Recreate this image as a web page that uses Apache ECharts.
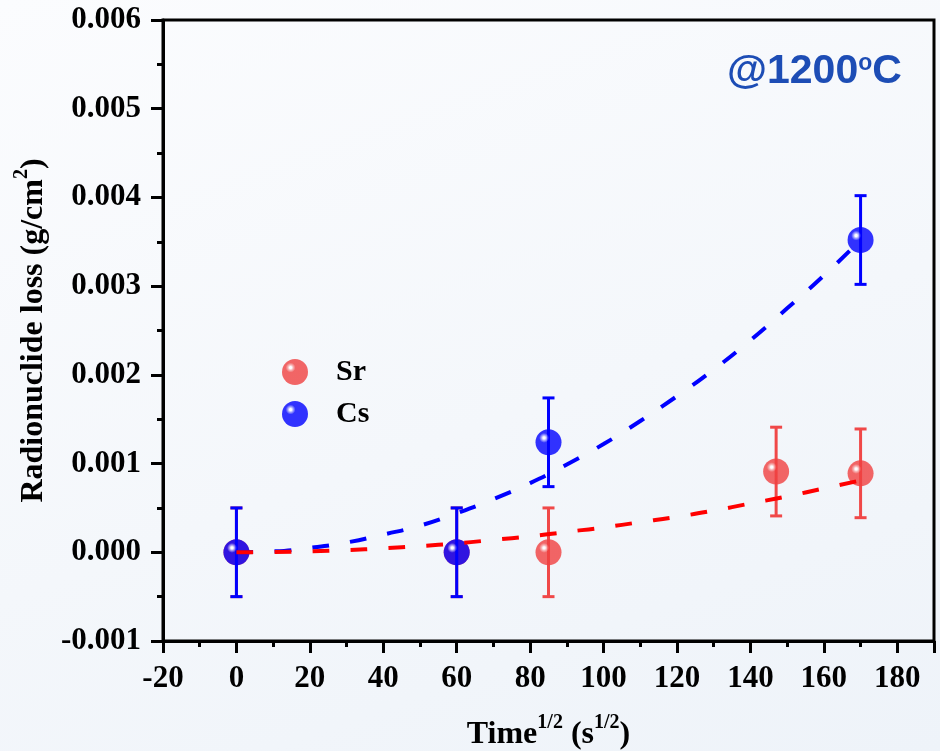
<!DOCTYPE html>
<html>
<head>
<meta charset="utf-8">
<script src="https://cdn.jsdelivr.net/npm/echarts@6/dist/echarts.min.js"></script>
<style>
  html, body { margin: 0; padding: 0; }
  body { width: 940px; height: 751px; background: linear-gradient(160deg, #fbfcfe 0%, #f4f7fb 55%, #eef3f9 100%); }
  #chart { width: 940px; height: 751px; }
</style>
</head>
<body>
<div id="chart"></div>
<script>
// Measured radionuclide loss at 1200 °C versus square root of time
const srTime = [0, 60, 85, 147, 170];
const srLoss = [0, 0, 0, 0.00091, 0.00089];
const srErr = [0.0005, 0.0005, 0.0005, 0.0005, 0.0005];

const csTime = [0, 60, 85, 170];
const csLoss = [0, 0, 0.00124, 0.00352];
const csErr = [0.0005, 0.0005, 0.0005, 0.0005];

// Dashed trend curves
const fitTime = [0, 10, 20, 30, 40, 50, 60, 70, 80, 90, 100, 110, 120, 130, 140, 150, 160, 170];
const csFit = [0, 0.00001, 0.00005, 0.00011, 0.0002, 0.0003, 0.00044, 0.0006, 0.00078, 0.00099,
               0.00122, 0.00148, 0.00176, 0.00206, 0.00239, 0.00275, 0.00312, 0.00352];
const srFit = [0, 0.000003, 0.00001, 0.000025, 0.000045, 0.00007, 0.0001, 0.00014, 0.00018, 0.00023,
               0.00028, 0.00034, 0.0004, 0.00047, 0.00055, 0.00063, 0.00072, 0.00081];

const xTicks = { min: -20, max: 190, step: 20 };
const yTicks = { min: -0.001, max: 0.006, step: 0.001 };

const SERIF = '"Liberation Serif", "Times New Roman", serif';
const SANS = '"Liberation Sans", Arial, sans-serif';

// Glossy ball fill: small white highlight at the upper left
function sphere(main, light) {
  return {
    type: 'radial', x: 0.33, y: 0.33, r: 0.7,
    colorStops: [
      { offset: 0, color: '#ffffff' },
      { offset: 0.06, color: '#ffffff' },
      { offset: 0.15, color: light },
      { offset: 0.27, color: main },
      { offset: 1, color: main }
    ]
  };
}
const redBall = sphere('#f04040', '#f6a0a0');
const blueBall = sphere('#0000ff', '#8c8cff');

function errorBars(xs, ys, es) {
  return xs.map((x, i) => [x, ys[i] - es[i], ys[i] + es[i]]);
}

function errorRender(color) {
  return function (params, api) {
    const x = api.value(0);
    const lo = api.coord([x, api.value(1)]);
    const hi = api.coord([x, api.value(2)]);
    const cap = 6;
    const style = { stroke: color, lineWidth: 3 };
    return {
      type: 'group',
      children: [
        { type: 'line', shape: { x1: lo[0], y1: lo[1], x2: hi[0], y2: hi[1] }, style },
        { type: 'line', shape: { x1: lo[0] - cap, y1: lo[1], x2: lo[0] + cap, y2: lo[1] }, style },
        { type: 'line', shape: { x1: hi[0] - cap, y1: hi[1], x2: hi[0] + cap, y2: hi[1] }, style }
      ]
    };
  };
}

const pair = (xs, ys) => xs.map((x, i) => [x, ys[i]]);

const labelFont = { fontFamily: SERIF, fontWeight: 'bold', fontSize: 31, color: '#000' };
const titleRich = {
  b: { fontFamily: SERIF, fontWeight: 'bold', fontSize: 32, color: '#000', lineHeight: 38, verticalAlign: 'bottom' },
  s: { fontFamily: SERIF, fontWeight: 'bold', fontSize: 20, color: '#000', lineHeight: 20, verticalAlign: 'top' }
};

const chart = echarts.init(document.getElementById('chart'));
chart.setOption({
  backgroundColor: 'transparent',
  animation: false,
  grid: {
    left: 163, top: 20, right: 6, bottom: 110,
    outerBoundsMode: 'none', containLabel: false,
    show: true, borderColor: '#000', borderWidth: 3, backgroundColor: 'transparent'
  },
  xAxis: {
    type: 'value',
    min: xTicks.min, max: xTicks.max, interval: xTicks.step,
    name: '{b|Time}{s|1/2}{b| (s}{s|1/2}{b|)}',
    nameLocation: 'middle', nameGap: 72,
    nameTextStyle: { rich: titleRich },
    axisLine: { show: true, onZero: false, lineStyle: { color: '#000', width: 3 } },
    axisTick: { show: true, inside: false, length: 12, lineStyle: { color: '#000', width: 3 } },
    minorTick: { show: true, splitNumber: 2, length: 6, lineStyle: { color: '#000', width: 3 } },
    splitLine: { show: false },
    axisLabel: Object.assign({ margin: 22, formatter: v => (v > 180 ? '' : String(v)) }, labelFont)
  },
  yAxis: {
    type: 'value',
    min: yTicks.min, max: yTicks.max, interval: yTicks.step,
    name: '{b|Radionuclide loss (g/cm}{s|2}{b|)}',
    nameLocation: 'middle', nameGap: 110, nameRotate: 90,
    nameTextStyle: { rich: titleRich },
    axisLine: { show: true, onZero: false, lineStyle: { color: '#000', width: 3 } },
    axisTick: { show: true, inside: false, length: 12, lineStyle: { color: '#000', width: 3 } },
    minorTick: { show: true, splitNumber: 2, length: 6, lineStyle: { color: '#000', width: 3 } },
    splitLine: { show: false },
    axisLabel: Object.assign({ margin: 22, formatter: v => v.toFixed(3) }, labelFont)
  },
  legend: {
    orient: 'vertical', left: 277, top: 352, itemGap: 12,
    itemWidth: 26, itemHeight: 26, icon: 'circle',
    data: ['Sr', 'Cs'],
    textStyle: { fontFamily: SERIF, fontWeight: 'bold', fontSize: 30, lineHeight: 28, color: '#000', padding: [0, 0, 0, 23] }
  },
  graphic: [{
    type: 'text', left: 727, top: 42, z: 10,
    style: {
      text: '{m|@1200}{s|o}{m|C}',
      rich: {
        m: { fontFamily: SANS, fontWeight: 'bold', fontSize: 41, fill: '#1d4db5', lineHeight: 50, verticalAlign: 'bottom' },
        s: { fontFamily: SANS, fontWeight: 'bold', fontSize: 23, fill: '#1d4db5', lineHeight: 36, padding: [10, 0, 0, 0], verticalAlign: 'top' }
      }
    }
  }],
  series: [
    {
      name: 'Sr err', type: 'custom', renderItem: errorRender('#f04848'),
      data: errorBars(srTime, srLoss, srErr), z: 2, silent: true
    },
    {
      name: 'Sr', type: 'scatter', data: pair(srTime, srLoss),
      symbolSize: 26, itemStyle: { color: redBall }, z: 3
    },
    {
      name: 'Cs err', type: 'custom', renderItem: errorRender('#0000ff'),
      data: errorBars(csTime, csLoss, csErr), z: 4, silent: true
    },
    {
      name: 'Cs', type: 'scatter', data: pair(csTime, csLoss),
      symbolSize: 26, itemStyle: { color: blueBall }, z: 5
    },
    {
      name: 'Cs fit', type: 'line', data: pair(fitTime, csFit), smooth: true,
      showSymbol: false, lineStyle: { color: '#0000ff', width: 4, type: [17, 21] }, z: 6, silent: true
    },
    {
      name: 'Sr fit', type: 'line', data: pair(fitTime, srFit), smooth: true,
      showSymbol: false, lineStyle: { color: '#ff0000', width: 4, type: [17, 21] }, z: 7, silent: true
    }
  ]
});
</script>
</body>
</html>
